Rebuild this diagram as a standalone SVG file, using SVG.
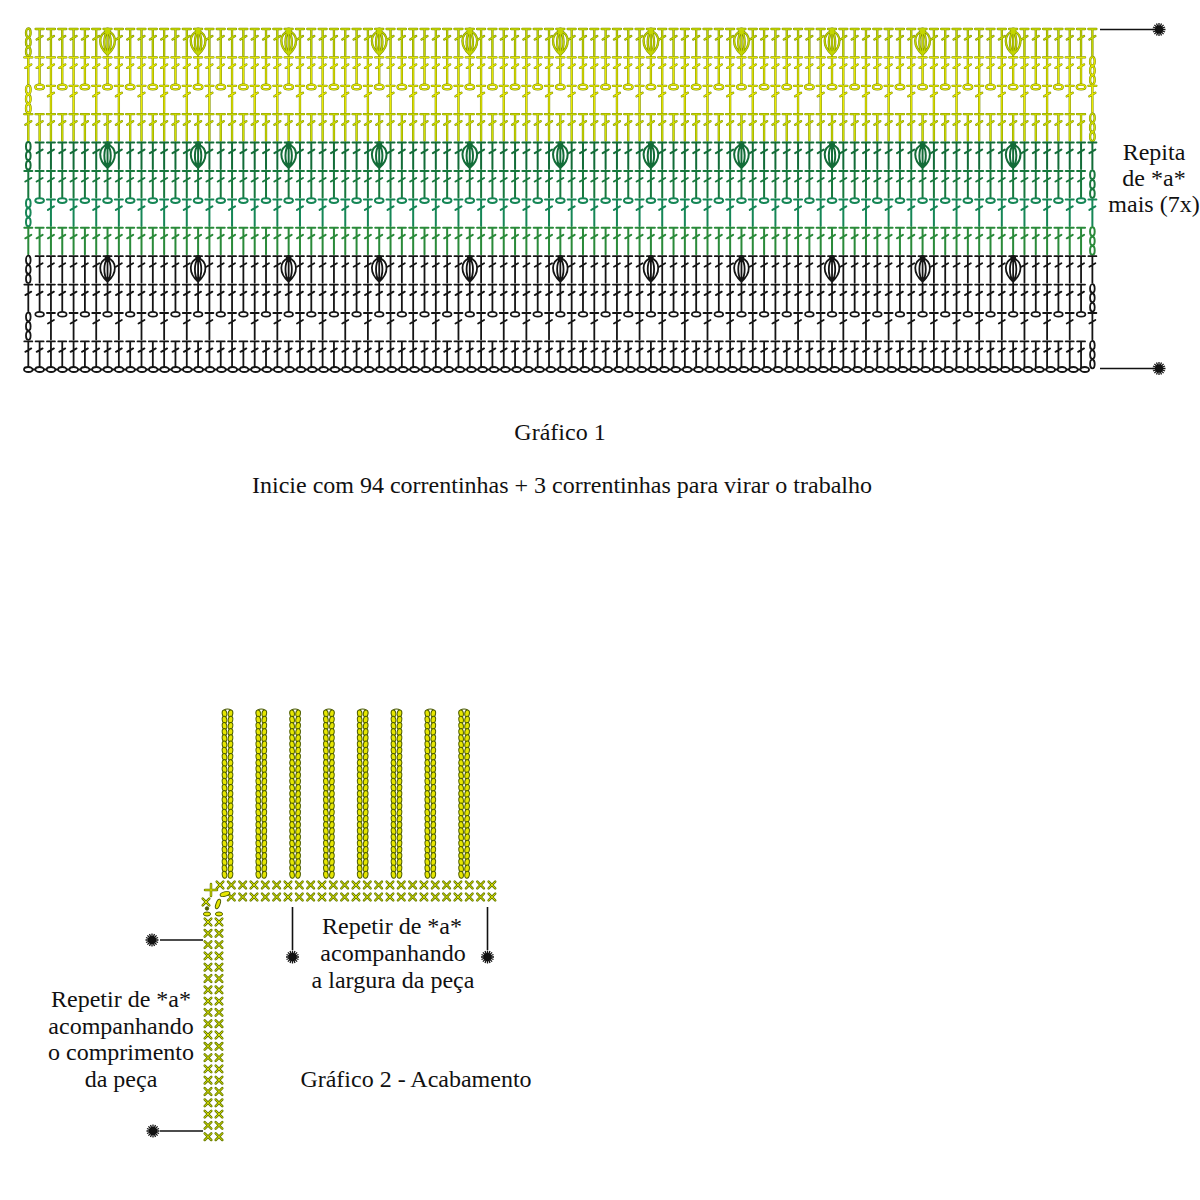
<svg xmlns="http://www.w3.org/2000/svg" xmlns:xlink="http://www.w3.org/1999/xlink" width="1200" height="1200" viewBox="0 0 1200 1200">
<style>
.st{fill:none;stroke-linecap:round;stroke-linejoin:round}
.yo{stroke:#7d8d00;color:#7d8d00;stroke-width:2.3}
.y0{stroke:#c4d600;color:#c4d600;stroke-width:1.3}
.y1{stroke:#e6e800;color:#e6e800;stroke-width:1.3}
.y2{stroke:#ecec00;color:#ecec00;stroke-width:1.3}
.y3{stroke:#d2e000;color:#d2e000;stroke-width:1.3}
.g4{stroke:#136c38;color:#136c38;stroke-width:2}
.g5{stroke:#18783d;color:#18783d;stroke-width:2}
.g6{stroke:#168656;color:#168656;stroke-width:2}
.g7{stroke:#2a8a3a;color:#2a8a3a;stroke-width:2}
.k{stroke:#141414;color:#141414;stroke-width:1.8}
.fr{fill:#e6e600;stroke:#4c5c00;stroke-width:1}
.arch{fill:none;stroke:#4c5c00;stroke-width:1.1}
.xo{fill:none;stroke:#667a00;stroke-width:2.5;stroke-linecap:round}
.xi{fill:none;stroke:#dce400;stroke-width:1;stroke-linecap:round}
.ln{fill:none;stroke:#111;stroke-width:1.6}
.ast{fill:#111;stroke:#111;stroke-width:1.3}
.t{font-family:"Liberation Serif","Times New Roman",serif;font-size:24px;fill:#111;text-anchor:middle}
</style>
<defs>
<path id="dc" d="M-4,1H4M0,1V27.5M-3,11.5L3,8"/>
<ellipse id="ov" cx="0" cy="2.2" rx="4.3" ry="2.4"/>
<g id="ch"><ellipse cx="0" cy="4.8" rx="2.3" ry="4.3"/><ellipse cx="0" cy="14.2" rx="2.3" ry="4.3"/><ellipse cx="0" cy="23.6" rx="2.3" ry="4.3"/></g>
<g id="bob"><path d="M-4,1H4M0,3C9.5,6 10,18 0,26.5C-10,18 -9.5,6 0,3ZM0,3C4,8 4.5,19 0,26.5M0,3C-4,8 -4.5,19 0,26.5M0,3V28"/><circle cx="0" cy="2.6" r="2" fill="currentColor"/></g>
<g id="dc2"><use href="#dc"/><use href="#dc" x="11.32"/></g>
<g id="dc4"><use href="#dc2"/><use href="#dc2" x="22.64"/></g>
<g id="dc8"><use href="#dc4"/><use href="#dc4" x="45.28"/></g>
<g id="dc16"><use href="#dc8"/><use href="#dc8" x="90.56"/></g>
<g id="dc32"><use href="#dc16"/><use href="#dc16" x="181.12"/></g>
<g id="rD"><use href="#dc32"/><use href="#dc32" x="362.24"/><use href="#dc16" x="724.48"/><use href="#dc8" x="905.6"/><use href="#dc4" x="996.16"/><use href="#dc" x="1041.44"/></g>
<g id="b8"><use href="#dc4"/><use href="#dc2" x="45.28"/><use href="#bob" x="67.92"/><use href="#dc" x="79.24"/></g>
<g id="b32"><use href="#b8"/><use href="#b8" x="90.56"/><use href="#b8" x="181.12"/><use href="#b8" x="271.68"/></g>
<g id="rB"><use href="#b32"/><use href="#b32" x="362.24"/><use href="#b8" x="724.48"/><use href="#b8" x="815.04"/><use href="#b8" x="905.6"/><use href="#dc4" x="996.16"/><use href="#dc" x="1041.44"/></g>
<g id="c2"><use href="#ov"/><use href="#dc" x="11.32"/></g>
<g id="c8"><use href="#c2"/><use href="#c2" x="22.64"/><use href="#c2" x="45.28"/><use href="#c2" x="67.92"/></g>
<g id="c32"><use href="#c8"/><use href="#c8" x="90.56"/><use href="#c8" x="181.12"/><use href="#c8" x="271.68"/></g>
<g id="rC"><use href="#c32"/><use href="#c32" x="362.24"/><use href="#c8" x="724.48"/><use href="#c8" x="815.04"/><use href="#c8" x="905.6"/><use href="#c2" x="996.16"/><use href="#c2" x="1018.8"/><use href="#ov" x="1041.44"/></g>
<g id="fB"><use href="#ch"/><use href="#rB" x="11.32"/><use href="#dc" x="1064.08"/></g>
<g id="fD"><use href="#dc"/><use href="#rD" x="11.32"/><use href="#ch" x="1064.08"/></g>
<g id="fC"><use href="#ch"/><use href="#rC" x="11.32"/><use href="#dc" x="1064.08"/></g>
<ellipse id="fo" cx="0" cy="0" rx="4.3" ry="2.5" fill="#fff"/>
<g id="fo2"><use href="#fo"/><use href="#fo" x="11.36"/></g>
<g id="fo4"><use href="#fo2"/><use href="#fo2" x="22.72"/></g>
<g id="fo8"><use href="#fo4"/><use href="#fo4" x="45.44"/></g>
<g id="fo16"><use href="#fo8"/><use href="#fo8" x="90.88"/></g>
<g id="fo32"><use href="#fo16"/><use href="#fo16" x="181.76"/></g>
<g id="fo64"><use href="#fo32"/><use href="#fo32" x="363.52"/></g>
<g id="fp"><ellipse cx="-3" cy="0" rx="2.3" ry="3.5" transform="rotate(-8 -3 0)"/><ellipse cx="3" cy="0" rx="2.3" ry="3.5" transform="rotate(8 3 0)"/></g>
<g id="fp2"><use href="#fp"/><use href="#fp" y="6.2"/></g>
<g id="fp4"><use href="#fp2"/><use href="#fp2" y="12.4"/></g>
<g id="fp8"><use href="#fp4"/><use href="#fp4" y="24.8"/></g>
<g id="fp16"><use href="#fp8"/><use href="#fp8" y="49.6"/></g>
<g id="loop"><path class="arch" d="M-5.2,0C-5.2,-6 5.2,-6 5.2,0"/><use href="#fp16"/><use href="#fp8" y="99.2"/><use href="#fp2" y="148.8"/><use href="#fp" y="161.2"/></g>
<path id="x" d="M-3.3,-3.3L3.3,3.3M3.3,-3.3L-3.3,3.3"/>
<g id="x2"><use href="#x"/><use href="#x" x="11.33"/></g>
<g id="x4"><use href="#x2"/><use href="#x2" x="22.66"/></g>
<g id="x8"><use href="#x4"/><use href="#x4" x="45.32"/></g>
<g id="x16"><use href="#x8"/><use href="#x8" x="90.64"/></g>
<g id="v1"><use href="#x" x="208"/><use href="#x" x="219"/></g>
<g id="v2"><use href="#v1"/><use href="#v1" y="11.3"/></g>
<g id="v4"><use href="#v2"/><use href="#v2" y="22.6"/></g>
<g id="v8"><use href="#v4"/><use href="#v4" y="45.2"/></g>
<g id="v16"><use href="#v8"/><use href="#v8" y="90.4"/></g>
<g id="xall"><use href="#x16" x="220" y="885"/><use href="#x8" x="401.28" y="885"/><use href="#x" x="491.92" y="885"/><use href="#x16" x="231.33" y="897"/><use href="#x8" x="412.61" y="897"/><use href="#v16" y="922"/><use href="#v4" y="1102.8"/><use href="#x" x="206" y="902"/><path d="M205,890H217M211,884V896"/></g>
<g id="ast"><circle r="3.4"/><path d="M-6.5,0H6.5M0,-6.5V6.5M-4.6,-4.6L4.6,4.6M4.6,-4.6L-4.6,4.6M-6,-2.5L6,2.5M-6,2.5L6,-2.5M-2.5,-6L2.5,6M2.5,-6L-2.5,6"/></g>
</defs>
<rect width="1200" height="1200" fill="#fff"/>
<g id="grafico1" class="st">
<use href="#fB" x="28.3" y="28" class="yo"/><use href="#fB" x="28.3" y="28" class="y0"/>
<use href="#fD" x="28.3" y="56.4" class="yo"/><use href="#fD" x="28.3" y="56.4" class="y1"/>
<use href="#fC" x="28.3" y="84.8" class="yo"/><use href="#fC" x="28.3" y="84.8" class="y2"/>
<use href="#fD" x="28.3" y="113.2" class="yo"/><use href="#fD" x="28.3" y="113.2" class="y3"/>
<use href="#fB" x="28.3" y="141.6" class="g4"/>
<use href="#fD" x="28.3" y="170" class="g5"/>
<use href="#fC" x="28.3" y="198.4" class="g6"/>
<use href="#fD" x="28.3" y="226.8" class="g7"/>
<use href="#fB" x="28.3" y="255.2" class="k"/>
<use href="#fD" x="28.3" y="283.6" class="k"/>
<use href="#fC" x="28.3" y="312" class="k"/>
<use href="#fD" x="28.3" y="340.4" class="k"/>
<g id="foundation" class="k" stroke-width="1.6">
<path d="M28,369.5H1085"/>
<use href="#fo64" x="28.3" y="369.5"/><use href="#fo16" x="755.34" y="369.5"/><use href="#fo8" x="937.1" y="369.5"/><use href="#fo4" x="1027.98" y="369.5"/><use href="#fo2" x="1073.42" y="369.5"/>
</g>
</g>
<g id="grafico2">
<g id="fringe" class="fr">
<use href="#loop" x="227.5" y="713.5"/><use href="#loop" x="261.3" y="713.5"/><use href="#loop" x="295.1" y="713.5"/><use href="#loop" x="328.9" y="713.5"/><use href="#loop" x="362.7" y="713.5"/><use href="#loop" x="396.5" y="713.5"/><use href="#loop" x="430.3" y="713.5"/><use href="#loop" x="464.1" y="713.5"/>
</g>
<g id="edge">
<use href="#xall" class="xo"/><use href="#xall" class="xi"/>
<g class="fr">
<ellipse cx="225" cy="894" rx="5" ry="2.2" transform="rotate(-15 225 894)"/>
<ellipse cx="218" cy="904" rx="2" ry="5" transform="rotate(20 218 904)"/>
<ellipse cx="219" cy="914" rx="3.6" ry="2"/>
<ellipse cx="207" cy="914" rx="3.6" ry="2"/>
<circle cx="207" cy="908.5" r="1.7" fill="#4c5c00"/>
</g>
</g>
</g>
<g id="connectors" class="ln">
<path d="M1100,29.5H1154"/>
<path d="M1100,368.5H1154"/>
<path d="M160,940H203"/>
<path d="M160,1131H203"/>
<path d="M292.5,907V950"/>
<path d="M487.5,907V950"/>
</g>
<g id="marks" class="ast">
<use href="#ast" x="1159" y="29.5"/>
<use href="#ast" x="1159" y="368.5"/>
<use href="#ast" x="152" y="940"/>
<use href="#ast" x="153" y="1131"/>
<use href="#ast" x="292.5" y="957"/>
<use href="#ast" x="487.5" y="957"/>
</g>
<g id="labels">
<text class="t" x="1154" y="160">Repita</text>
<text class="t" x="1154" y="186">de *a*</text>
<text class="t" x="1154" y="212">mais (7x)</text>
<text class="t" x="560" y="440">Gráfico 1</text>
<text class="t" x="562" y="493">Inicie com 94 correntinhas + 3 correntinhas para virar o trabalho</text>
<text class="t" x="392" y="934">Repetir de *a*</text>
<text class="t" x="393" y="961">acompanhando</text>
<text class="t" x="393" y="988">a largura da peça</text>
<text class="t" x="121" y="1007">Repetir de *a*</text>
<text class="t" x="121" y="1034">acompanhando</text>
<text class="t" x="121" y="1060">o comprimento</text>
<text class="t" x="121" y="1087">da peça</text>
<text class="t" x="416" y="1087">Gráfico 2 - Acabamento</text>
</g>
</svg>
